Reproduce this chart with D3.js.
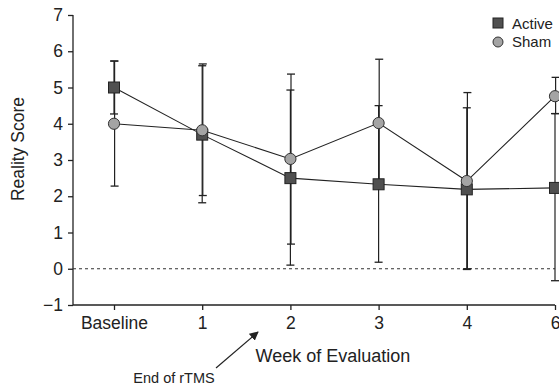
<!DOCTYPE html>
<html>
<head>
<meta charset="utf-8">
<script src="https://cdn.jsdelivr.net/npm/d3@7/dist/d3.min.js"></script>
<style>
  body { margin: 0; background: #fff; }
  svg text { font-family: "Liberation Sans", Arial, Helvetica, sans-serif; fill: #222; }
</style>
</head>
<body>
<div id="chart"></div>
<script>
// data
var weeks = ["Baseline", "1", "2", "3", "4", "6"];
var activeMean = [5.0, 3.7, 2.5, 2.33, 2.19, 2.23];
var activeLow  = [4.27, 1.82, 0.1, 0.18, -0.02, -0.33];
var activeHigh = [5.73, 5.6, 4.93, 4.5, 4.44, 4.28];
var shamMean = [4.0, 3.82, 3.03, 4.02, 2.42, 4.76];
var shamLow  = [2.28, 2.02, 0.68, 2.25, 0.0, 4.28];
var shamHigh = [5.73, 5.65, 5.37, 5.78, 4.86, 5.28];
var yTicks = [-1, 0, 1, 2, 3, 4, 5, 6, 7];

var width = 559, height = 388;
var svg = d3.select("#chart").append("svg")
    .attr("width", width)
    .attr("height", height);

var x = d3.scalePoint().domain(weeks).range([114, 555]);
var y = d3.scaleLinear().domain([-1, 7]).range([305, 15]);
var axisLeft = 73;

// axes
var yAxis = svg.append("g")
    .attr("transform", "translate(" + axisLeft + ",0)")
    .call(d3.axisLeft(y).tickValues(yTicks).tickSize(5).tickPadding(5)
        .tickFormat(function (d) { return d < 0 ? "\u2212" + Math.abs(d) : d; }));
yAxis.select(".domain").remove();
yAxis.selectAll("line").attr("stroke", "#222").attr("stroke-width", 1.3);
yAxis.selectAll("text").style("font-size", "17.5px").attr("fill", "#222");

svg.append("line")
    .attr("x1", axisLeft).attr("x2", axisLeft)
    .attr("y1", y(7)).attr("y2", y(-1))
    .attr("stroke", "#222").attr("stroke-width", 1.3);

var xAxis = svg.append("g")
    .attr("transform", "translate(0," + y(-1) + ")")
    .call(d3.axisBottom(x).tickSize(5).tickPadding(7));
xAxis.select(".domain").remove();
xAxis.selectAll("line").attr("stroke", "#222").attr("stroke-width", 1.3);
xAxis.selectAll("text").style("font-size", "17.5px").attr("fill", "#222");

svg.append("line")
    .attr("x1", axisLeft).attr("x2", x("6"))
    .attr("y1", y(-1)).attr("y2", y(-1))
    .attr("stroke", "#222").attr("stroke-width", 1.3);

// zero reference
svg.append("line")
    .attr("x1", axisLeft).attr("x2", x("6"))
    .attr("y1", y(0)).attr("y2", y(0))
    .attr("stroke", "#333").attr("stroke-width", 1.1)
    .attr("stroke-dasharray", "3,3");

// error bars
function errorBars(low, high, dx) {
    var g = svg.append("g");
    weeks.forEach(function (w, i) {
        var cx = x(w) + dx;
        g.append("line")
            .attr("x1", cx).attr("x2", cx)
            .attr("y1", y(low[i])).attr("y2", y(high[i]))
            .attr("stroke", "#222").attr("stroke-width", 1.2);
        [low[i], high[i]].forEach(function (v) {
            g.append("line")
                .attr("x1", cx - 4).attr("x2", cx + 4)
                .attr("y1", y(v)).attr("y2", y(v))
                .attr("stroke", "#222").attr("stroke-width", 1.3);
        });
    });
}
errorBars(activeLow, activeHigh, 0);
errorBars(shamLow, shamHigh, 0.6);

// lines
var line = d3.line()
    .x(function (d, i) { return x(weeks[i]); })
    .y(function (d) { return y(d); });

svg.append("path").datum(activeMean)
    .attr("d", line).attr("fill", "none")
    .attr("stroke", "#222").attr("stroke-width", 1.1);
svg.append("path").datum(shamMean)
    .attr("d", line).attr("fill", "none")
    .attr("stroke", "#222").attr("stroke-width", 1.1);

// markers
svg.selectAll(".sq").data(activeMean).enter().append("rect")
    .attr("class", "sq")
    .attr("x", function (d, i) { return x(weeks[i]) - 5.5; })
    .attr("y", function (d) { return y(d) - 5.5; })
    .attr("width", 11).attr("height", 11)
    .attr("fill", "#505050").attr("stroke", "#222").attr("stroke-width", 1);

svg.selectAll(".ci").data(shamMean).enter().append("circle")
    .attr("class", "ci")
    .attr("cx", function (d, i) { return x(weeks[i]); })
    .attr("cy", function (d) { return y(d); })
    .attr("r", 5.6)
    .attr("fill", "#a4a4a4").attr("stroke", "#333").attr("stroke-width", 1);

// legend
var legend = svg.append("g").attr("transform", "translate(493,18)");
legend.append("rect").attr("x", 0).attr("y", 0).attr("width", 10).attr("height", 10)
    .attr("fill", "#505050").attr("stroke", "#222").attr("stroke-width", 1);
legend.append("text").attr("x", 19).attr("y", 11).text("Active").style("font-size", "15px");
legend.append("circle").attr("cx", 5).attr("cy", 24).attr("r", 5)
    .attr("fill", "#a4a4a4").attr("stroke", "#333").attr("stroke-width", 1);
legend.append("text").attr("x", 19).attr("y", 29).text("Sham").style("font-size", "15px");

// axis titles
svg.append("text")
    .attr("transform", "translate(24,149) rotate(-90)")
    .attr("text-anchor", "middle")
    .style("font-size", "17.5px")
    .text("Reality Score");

svg.append("text")
    .attr("x", 333).attr("y", 362)
    .attr("text-anchor", "middle")
    .style("font-size", "18px")
    .text("Week of Evaluation");

// annotation
svg.append("defs").append("marker")
    .attr("id", "arrow")
    .attr("viewBox", "0 0 10 10")
    .attr("refX", 9).attr("refY", 5)
    .attr("markerWidth", 9).attr("markerHeight", 9)
    .attr("markerUnits", "userSpaceOnUse")
    .attr("orient", "auto")
    .append("path").attr("d", "M0,0 L10,5 L0,10 Z").attr("fill", "#222");

svg.append("line")
    .attr("x1", 216).attr("y1", 368)
    .attr("x2", 258).attr("y2", 332)
    .attr("stroke", "#222").attr("stroke-width", 1.2)
    .attr("marker-end", "url(#arrow)");

svg.append("text")
    .attr("x", 174).attr("y", 383)
    .attr("text-anchor", "middle")
    .style("font-size", "14.5px")
    .text("End of rTMS");
</script>
</body>
</html>
